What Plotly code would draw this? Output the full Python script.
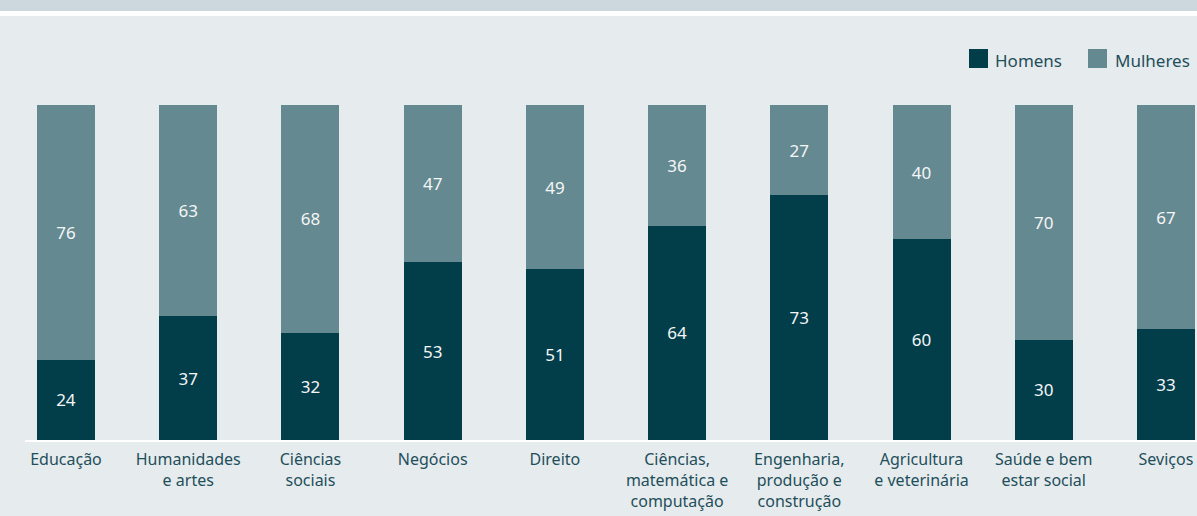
import plotly.graph_objects as go

categories = [
    "Educação",
    "Humanidades<br>e artes",
    "Ciências<br>sociais",
    "Negócios",
    "Direito",
    "Ciências,<br>matemática e<br>computação",
    "Engenharia,<br>produção e<br>construção",
    "Agricultura<br>e veterinária",
    "Saúde e bem<br>estar social",
    "Seviços",
]
homens = [24, 37, 32, 53, 51, 64, 73, 60, 30, 33]
mulheres = [76, 63, 68, 47, 49, 36, 27, 40, 70, 67]

DARK = "#023d4a"
LIGHT = "#658990"
BG = "#e6ebee"
TXT = "#1f4f5a"
FONT = "Noto Sans"

W, H = 1197, 516
L, R, T, B = 25, 0, 105, 76
pw, ph = W - L - R, H - T - B


def px(x):
    return (x - L) / pw


def py(y):
    return (H - B - y) / ph


fig = go.Figure()
for name, vals, col in [("Homens", homens, DARK), ("Mulheres", mulheres, LIGHT)]:
    fig.add_trace(go.Bar(
        x=list(range(len(categories))), y=vals, name=name,
        marker=dict(color=col, line=dict(width=0)),
        text=[str(v) for v in vals], textposition="inside",
        insidetextanchor="middle", constraintext="none",
        textfont=dict(family=FONT, size=17, color="#f4f6f7"),
        showlegend=False, hoverinfo="skip",
    ))

shapes = [
    # header band at top
    dict(type="rect", xref="paper", yref="paper", x0=px(0), x1=px(W), y0=py(0), y1=py(11),
         fillcolor="#cdd8de", line_width=0, layer="below"),
    dict(type="rect", xref="paper", yref="paper", x0=px(0), x1=px(W), y0=py(11), y1=py(16),
         fillcolor="#ffffff", line_width=0, layer="below"),
]
annotations = []
for name, col, x0, tx in [("Homens", DARK, 969, 993), ("Mulheres", LIGHT, 1088, 1113)]:
    shapes.append(dict(type="rect", xref="paper", yref="paper", x0=px(x0), x1=px(x0 + 19),
                       y0=py(68), y1=py(49), fillcolor=col, line_width=0))
    annotations.append(dict(xref="paper", yref="paper", x=px(tx), y=py(60), xanchor="left",
                            yanchor="middle", text=name, showarrow=False,
                            font=dict(family=FONT, size=17, color=TXT)))

fig.update_layout(
    width=W, height=H,
    margin=dict(l=L, r=R, t=T, b=B),
    paper_bgcolor=BG, plot_bgcolor=BG,
    barmode="stack", bargap=0.525,
    shapes=shapes, annotations=annotations,
    xaxis=dict(
        range=[-0.3355, 9.254], tickmode="array",
        tickvals=list(range(len(categories))), ticktext=categories,
        showline=True, linecolor="#ffffff", linewidth=2, showgrid=False, zeroline=False,
        ticks="", tickangle=0, ticklabelstandoff=4,
        tickfont=dict(family=FONT, size=16, color=TXT),
    ),
    yaxis=dict(range=[0, 100], visible=False),
)

fig.write_html("out.html", config={"displayModeBar": False},
               post_script="document.body.style.margin='0';")
